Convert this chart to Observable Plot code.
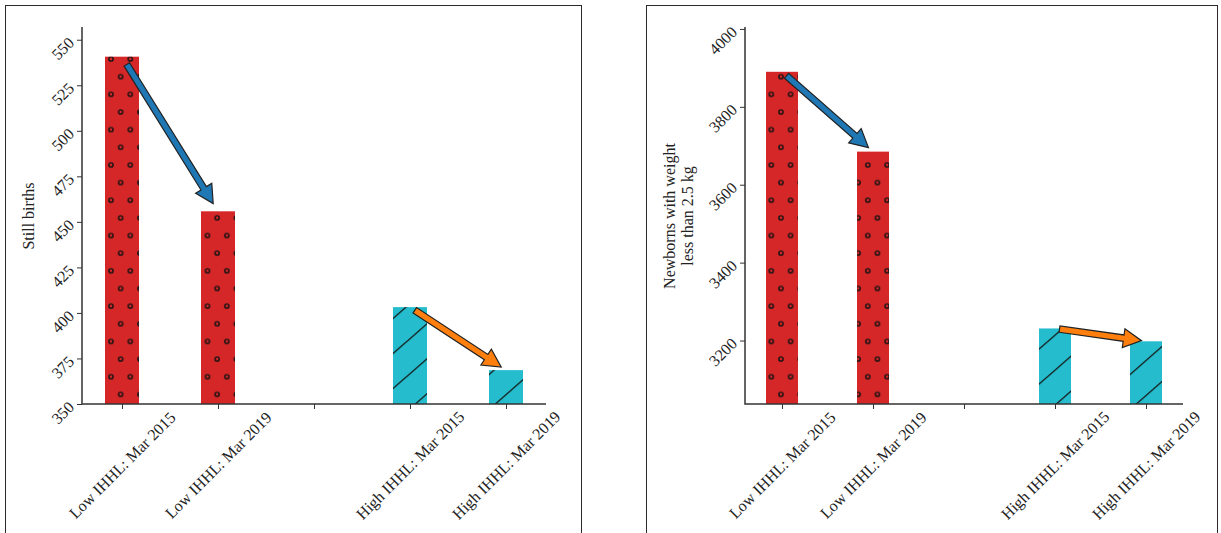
<!DOCTYPE html>
<html><head><meta charset="utf-8">
<script src="https://cdn.jsdelivr.net/npm/d3@7"></script>
<script src="https://cdn.jsdelivr.net/npm/@observablehq/plot@0.6"></script>
<style>
body{margin:0;background:#fff;width:1221px;height:533px;overflow:hidden;position:relative;font-family:"Liberation Serif",serif;}
.box{position:absolute;border:1.5px solid #2a2a2a;box-sizing:border-box;}
.panel{position:absolute;}
</style></head><body>
<div class="box" style="left:5px;top:5px;width:577px;height:560px"></div>
<div class="box" style="left:646px;top:5px;width:572px;height:560px"></div>
<div id="p1" class="panel" style="left:6px;top:6px"></div>
<div id="p2" class="panel" style="left:647px;top:6px"></div>
<script>
// ---- data ----
const categories = ["Low IHHL: Mar 2015", "Low IHHL: Mar 2019", " ", "High IHHL: Mar 2015", "High IHHL: Mar 2019"];
const groups = ["Low", "Low", null, "High", "High"];
const stillBirths = [540.7, 455.8, null, 403.2, 368.6];
const lowBirthWeight = [3890, 3685, null, 3231, 3198];
const arrowFrom = ["Low IHHL: Mar 2015", "High IHHL: Mar 2015"];
const arrowTo = ["Low IHHL: Mar 2019", "High IHHL: Mar 2019"];
const yTicksLeft = [350, 375, 400, 425, 450, 475, 500, 525, 550];
const yTicksRight = [3200, 3400, 3600, 3800, 4000];
const yLabelLeft = "Still births";
const yLabelRight = "Newborns with weight\nless than 2.5 kg";

// ---- styles ----
const barColor = {Low: "#d62728", High: "#25bdcd"};
const arrowColor = {Low: "#1f77b4", High: "#ff7f0e"};
const FS = 16;

function arrowPath(x1, y1, x2, y2) {
  const dx = x2 - x1, dy = y2 - y1, L = Math.hypot(dx, dy);
  const ux = dx / L, uy = dy / L, nx = -uy, ny = ux;
  const sx = x1 + ux * L * 0.05, sy = y1 + uy * L * 0.05;
  const ex = x2 - ux * L * 0.05, ey = y2 - uy * L * 0.05;
  const hl = 18, sw = 3.2, hw = 9.5;
  const bx = ex - ux * hl, by = ey - uy * hl;
  const pts = [
    [sx + nx * sw, sy + ny * sw], [bx + nx * sw, by + ny * sw], [bx + nx * hw, by + ny * hw],
    [ex, ey], [bx - nx * hw, by - ny * hw], [bx - nx * sw, by - ny * sw], [sx - nx * sw, sy - ny * sw]
  ];
  return "M" + pts.map(p => p.join(",")).join("L") + "Z";
}

function panel({id, values, yDomain, yTicks, yLabel, labelDx, width, marginLeft, marginRight}) {
  const rows = categories.map((c, i) => ({category: c, group: groups[i], value: values[i]})).filter(d => d.value != null);
  const low = rows.filter(d => d.group === "Low"), high = rows.filter(d => d.group === "High");
  const arrows = arrowFrom.map((f, i) => {
    const a = categories.indexOf(f), b = categories.indexOf(arrowTo[i]);
    return {from: f, to: arrowTo[i], y1: values[a], y2: values[b], group: groups[a]};
  });
  const defsMark = () => {
    const d = d3.create("svg:defs");
    const dots = d.append("pattern").attr("id", id + "-dots").attr("patternUnits", "userSpaceOnUse")
      .attr("width", 19.3).attr("height", 35.3).attr("x", 8.5).attr("y", 17.7);
    for (const [cx, cy] of [[0, 0], [19.3, 0], [0, 35.3], [19.3, 35.3], [9.65, 17.65]])
      dots.append("circle").attr("cx", cx).attr("cy", cy).attr("r", 2.1).attr("fill", "none").attr("stroke", "#111").attr("stroke-width", 1.4);
    const hatch = d.append("pattern").attr("id", id + "-hatch").attr("patternUnits", "userSpaceOnUse")
      .attr("width", 40).attr("height", 35).attr("x", 0).attr("y", 21.2);
    hatch.append("path").attr("d", "M-10,43.75L50,-8.75M-10,8.75L10,-8.75M30,43.75L50,26.25")
      .attr("stroke", "#111").attr("stroke-width", 1.3).attr("fill", "none");
    return d.node();
  };
  const overlay = (index, scales, vals, dim) => {
    const g = d3.create("svg:g");
    const x0 = dim.marginLeft, x1 = dim.width - dim.marginRight, yb = dim.height - dim.marginBottom, yt = dim.marginTop;
    g.append("path").attr("d", `M${x0},${yt}V${yb}H${x1}`).attr("fill", "none").attr("stroke", "#333").attr("stroke-width", 1.5);
    const bw = scales.x.bandwidth ? scales.x.bandwidth() : 0;
    for (const a of arrows) {
      g.append("path").attr("d", arrowPath(scales.x(a.from) + bw / 2, scales.y(a.y1), scales.x(a.to) + bw / 2, scales.y(a.y2)))
        .attr("fill", arrowColor[a.group]).attr("stroke", "#222").attr("stroke-width", 1.2).attr("stroke-linejoin", "miter");
    }
    return g.node();
  };
  const chart = Plot.plot({
    width, height: 527, marginLeft, marginRight, marginTop: 21, marginBottom: 129,
    style: {fontFamily: "Liberation Serif, serif", fontSize: FS + "px", color: "#222", background: "#fff", overflow: "visible"},
    x: {type: "band", domain: categories, paddingInner: 0.65, paddingOuter: 0.2175},
    y: {domain: yDomain},
    marks: [
      defsMark,
      Plot.barY(low, {x: "category", y1: yDomain[0], y2: "value", fill: barColor.Low}),
      Plot.barY(low, {x: "category", y1: yDomain[0], y2: "value", fill: `url(#${id}-dots)`}),
      Plot.barY(high, {x: "category", y1: yDomain[0], y2: "value", fill: barColor.High}),
      Plot.barY(high, {x: "category", y1: yDomain[0], y2: "value", fill: `url(#${id}-hatch)`}),
      Plot.axisY({ticks: yTicks, tickFormat: d3.format("d"), tickRotate: -45, tickSize: 5, tickPadding: 6, label: null, fontSize: FS, stroke: "#333"}),
      Plot.axisX({tickSize: 5, tickFormat: () => "", label: null, stroke: "#333"}),
      Plot.text(categories.filter(c => c.trim() !== ""), {x: d => d, frameAnchor: "bottom", dy: 61, rotate: -45, textAnchor: "middle", lineAnchor: "middle", fontSize: FS, fill: "#222"}),
      Plot.text([yLabel], {frameAnchor: "left", dx: labelDx, rotate: -90, textAnchor: "middle", lineAnchor: "middle", lineHeight: 1.1, fontSize: FS, fill: "#222"}),
      overlay
    ]
  });
  document.getElementById(id).appendChild(chart);
}

panel({id: "p1", values: stillBirths, yDomain: [350, 557], yTicks: yTicksLeft, yLabel: yLabelLeft, labelDx: -54, width: 575, marginLeft: 76, marginRight: 35});
panel({id: "p2", values: lowBirthWeight, yDomain: [3037, 4005], yTicks: yTicksRight, yLabel: yLabelRight, labelDx: -67, width: 570, marginLeft: 98, marginRight: 34});
</script>
</body></html>
